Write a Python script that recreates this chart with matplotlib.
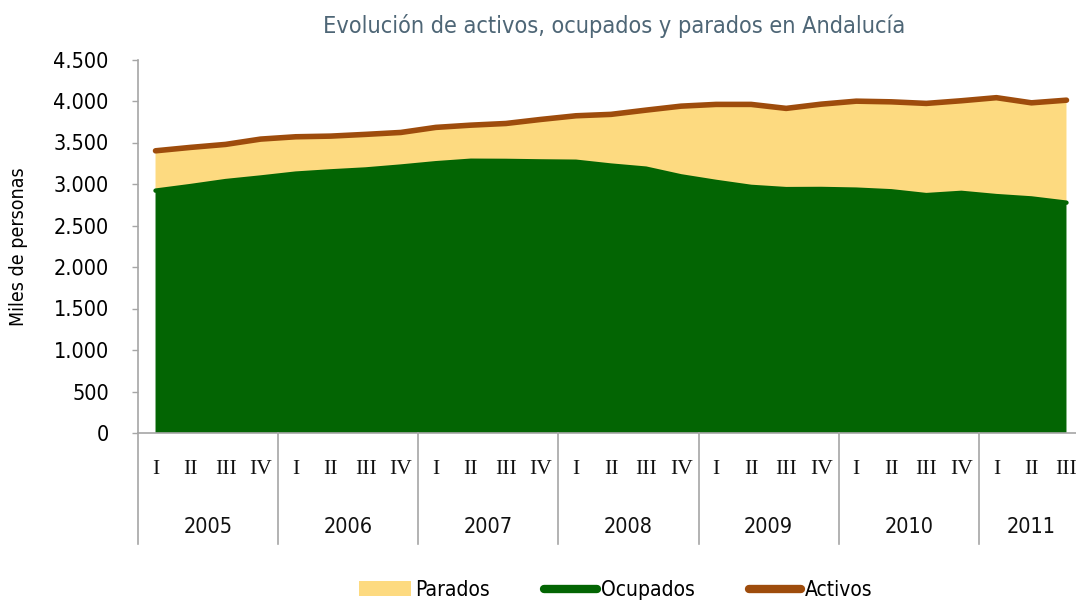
import matplotlib
matplotlib.use("Agg")
import matplotlib.pyplot as plt
import matplotlib.transforms as mtransforms
from matplotlib.patches import Patch
from matplotlib.lines import Line2D
import numpy as np

years = ["2005", "2006", "2007", "2008", "2009", "2010", "2011"]
quarters_per_year = [4, 4, 4, 4, 4, 4, 3]
quarter_names = ["I", "II", "III", "IV"]

ocupados = [2920, 2975, 3035, 3078, 3125, 3152, 3175, 3210, 3250, 3280, 3278, 3272, 3268, 3222,
            3185, 3092, 3025, 2965, 2938, 2940, 2932, 2912, 2866, 2893, 2854, 2826, 2775]
parados = [480, 466, 442, 463, 444, 425, 423, 411, 432, 429, 451, 506, 554, 617,
           705, 846, 934, 994, 973, 1022, 1066, 1078, 1105, 1110, 1186, 1152, 1235]
activos = [3400, 3441, 3477, 3541, 3569, 3577, 3598, 3621, 3682, 3709, 3729, 3778, 3822, 3839,
           3890, 3938, 3959, 3959, 3911, 3962, 3998, 3990, 3971, 4003, 4040, 3978, 4010]

c_green = "#036503"
c_yellow = "#FDDA80"
c_brown = "#9E4C0C"
c_axis = "#A6A6A6"

SANS = dict(family="DejaVu Sans", stretch="condensed")

W, H = 1076, 600
fig = plt.figure(figsize=(W / 100, H / 100), dpi=100)
left, right, top, bottom = 138, 1084, 59.5, 433
ax = fig.add_axes([left / W, (H - bottom) / H, (right - left) / W, (bottom - top) / H])

x = np.arange(len(ocupados))
ax.stackplot(x, ocupados, parados, colors=[c_green, c_yellow], linewidth=0)
ax.plot(x, ocupados, color=c_green, lw=3.2, solid_capstyle="round", zorder=3)
ax.plot(x, activos, color=c_brown, lw=4.0, solid_capstyle="round", zorder=4)

ax.set_xlim(-0.5, len(ocupados) - 0.5)
ax.set_ylim(0, 4500)
ax.set_yticks(np.arange(0, 4501, 500))
ax.set_yticklabels([f"{v:,}".replace(",", ".") for v in range(0, 4501, 500)],
                   fontsize=15.5, color="#000000", **SANS)
ax.tick_params(axis="y", length=4, color=c_axis, width=1, pad=17, direction="out")
ax.set_xticks([])
for s in ["top", "right"]:
    ax.spines[s].set_visible(False)
ax.spines["left"].set_color(c_axis)
ax.spines["bottom"].set_color(c_axis)
ax.spines["left"].set_linewidth(1.2)
ax.spines["bottom"].set_linewidth(1.2)

trans = mtransforms.blended_transform_factory(ax.transData, ax.transAxes)
ax_h = bottom - top
y_q = -(470 - bottom) / ax_h
y_y = -(527 - bottom) / ax_h
y_sep = -(544 - bottom) / ax_h

pos = 0
bounds = [-0.5]
for yr, nq in zip(years, quarters_per_year):
    for q in range(nq):
        ax.text(pos + q, y_q, quarter_names[q], transform=trans, ha="center", va="center",
                fontsize=15.5, family="Liberation Serif", color="#111111")
    ax.text(pos + (nq - 1) / 2, y_y, yr, transform=trans, ha="center", va="center",
            fontsize=15.5, color="#111111", **SANS)
    pos += nq
    bounds.append(pos - 0.5)
for b in bounds[:-1]:
    ax.plot([b, b], [0, y_sep], transform=trans, color=c_axis, lw=1.2, clip_on=False)

ax.set_ylabel("Miles de personas", fontsize=14, **SANS)
ax.yaxis.set_label_coords(-(left - 28) / (right - left), 0.5)

fig.text(614 / W, 1 - 26 / H, "Evolución de activos, ocupados y parados en Andalucía",
         ha="center", va="center", fontsize=16.8, color="#4E6676", **SANS)

handles = [Patch(facecolor=c_yellow, edgecolor="none"),
           Line2D([0], [0], color=c_green, lw=6, solid_capstyle="round"),
           Line2D([0], [0], color=c_brown, lw=6, solid_capstyle="round")]
fig.legend(handles, ["Parados", "Ocupados", "Activos"], loc="center",
           bbox_to_anchor=(616 / W, 1 - 590 / H), ncol=3, frameon=False,
           handlelength=2.5, handletextpad=0.2, columnspacing=2.6,
           prop={"family": "DejaVu Sans", "stretch": "condensed", "size": 15})

fig.savefig("out.png", dpi=100)
